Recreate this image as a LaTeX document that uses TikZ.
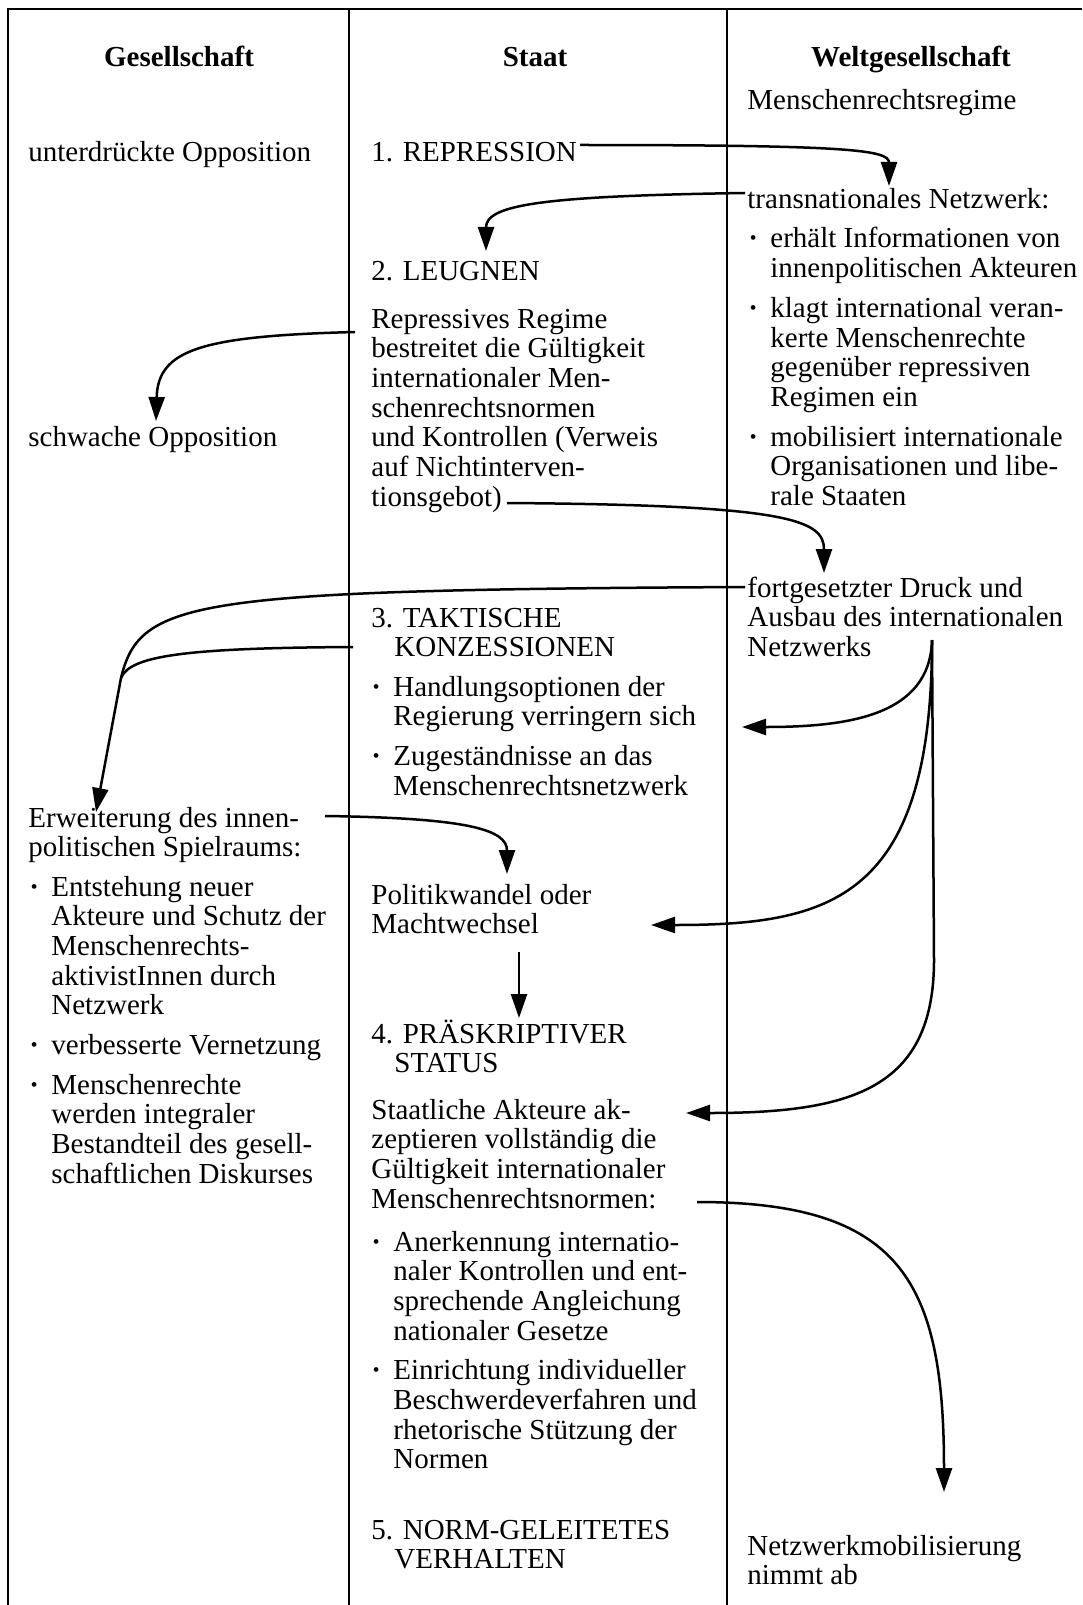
\documentclass[tikz,border=0pt]{standalone}
\usepackage{fontspec}
\setmainfont{Liberation Serif}
\usetikzlibrary{arrows.meta}

\newcommand{\zeilen}[1]{\begin{tabular}[t]{@{}l@{}}#1\end{tabular}}
\newcommand{\punkte}[1]{\begin{tabular}[t]{@{}l@{}l@{}}#1\end{tabular}}
\newcommand{\pkt}{\makebox[11pt][l]{\textbf{·}}}
\newcommand{\einr}{\hspace*{11.5pt}}

\tikzset{
  txt/.style={anchor=base west, inner sep=0pt, font=\fontsize{14.5}{14.85}\selectfont},
  kopf/.style={anchor=base, inner sep=0pt, font=\fontsize{14.5}{14.85}\selectfont\bfseries},
  linie/.style={line width=1pt},
  strich/.style={line width=1.25pt},
  pfeil/.style={line width=1.25pt, -{Triangle[length=12pt,width=8pt]}}
}

\begin{document}
\begin{tikzpicture}[x=0.5pt, y=-0.5pt]
\useasboundingbox (0,0) rectangle (1082,1605);

% Rahmen und Spalten
\draw[linie, line width=1.3pt] (1082,9) -- (8,9) -- (8,1605);
\draw[linie] (349,9) -- (349,1605);
\draw[linie] (727,9) -- (727,1605);

% Kopfzeile
\node[kopf] (gesell) at (179,67) {Gesellschaft};
\node[kopf] (staat) at (535,67) {Staat};
\node[kopf] (welt) at (911,67) {Weltgesellschaft};

% Gesellschaft
\node[txt] (unterdr) at (28,162) {unterdrückte Opposition};
\node[txt] (schwach) at (28,446) {schwache Opposition};
\node[txt] (erweit) at (28,827) {\zeilen{Erweiterung des innen-\\politischen Spielraums:}};
\node[txt] (entsteh) at (29,896) {\punkte{\pkt & Entstehung neuer\\ & Akteure und Schutz der\\ & Menschenrechts-\\ & aktivistInnen durch\\ & Netzwerk\\[5pt]
  \pkt & verbesserte Vernetzung\\[5pt]
  \pkt & Menschenrechte\\ & werden integraler\\ & Bestandteil des gesell-\\ & schaftlichen Diskurses}};

% Staat
\node[txt] (repr) at (371,162) {1. REPRESSION};
\node[txt] (leugn) at (371,280) {2. LEUGNEN};
\node[txt] (regime) at (371,328) {\zeilen{Repressives Regime\\bestreitet die Gültigkeit\\internationaler Men-\\schenrechtsnormen\\und Kontrollen (Verweis\\auf Nichtinterven-\\tionsgebot)}};
\node[txt] (takt) at (371,627) {\zeilen{3. TAKTISCHE\\\einr KONZESSIONEN}};
\node[txt] (handl) at (371,696) {\punkte{\pkt & Handlungsoptionen der\\ & Regierung verringern sich\\[5pt]
  \pkt & Zugeständnisse an das\\ & Menschenrechtsnetzwerk}};
\node[txt] (wandel) at (371,904) {\zeilen{Politikwandel oder\\Machtwechsel}};
\node[txt] (praeskr) at (371,1043) {\zeilen{4. PRÄSKRIPTIVER\\\einr STATUS}};
\node[txt] (akzept) at (371,1119) {\zeilen{Staatliche Akteure ak-\\zeptieren vollständig die\\Gültigkeit internationaler\\Menschenrechtsnormen:}};
\node[txt] (anerk) at (371,1251) {\punkte{\pkt & Anerkennung internatio-\\ & naler Kontrollen und ent-\\ & sprechende Angleichung\\ & nationaler Gesetze\\[5pt]
  \pkt & Einrichtung individueller\\ & Beschwerdeverfahren und\\ & rhetorische Stützung der\\ & Normen}};
\node[txt] (norm) at (371,1539) {\zeilen{5. NORM-GELEITETES\\\einr VERHALTEN}};

% Weltgesellschaft
\node[txt] (mrregime) at (747,110) {Menschenrechtsregime};
\node[txt] (transnat) at (747,209) {transnationales Netzwerk:};
\node[txt] (erhaelt) at (748,248) {\punkte{\pkt & erhält Informationen von\\ & innenpolitischen Akteuren\\[5pt]
  \pkt & klagt international veran-\\ & kerte Menschenrechte\\ & gegenüber repressiven\\ & Regimen ein\\[5pt]
  \pkt & mobilisiert internationale\\ & Organisationen und libe-\\ & rale Staaten}};
\node[txt] (druck) at (747,597) {\zeilen{fortgesetzter Druck und\\Ausbau des internationalen\\Netzwerks}};
\node[txt] (abnahme) at (747,1555) {\zeilen{Netzwerkmobilisierung\\nimmt ab}};

% Anfangs- und Endpunkte der Pfeile
\coordinate (reprA) at (580,145);
\coordinate (reprE) at (889,186);
\coordinate (netzA) at (745,193);
\coordinate (netzE) at (486,251);
\coordinate (leugnA) at (355,332);
\coordinate (leugnE) at (156,421);
\coordinate (gebotA) at (507,503);
\coordinate (gebotE) at (824,573);
\coordinate (druckA) at (745,587);
\coordinate (konzA) at (353,647);
\coordinate (treff) at (121,678);
\coordinate (erweitE) at (96,812);
\coordinate (spielA) at (325,816);
\coordinate (wandelE) at (507,874);
\coordinate (wandelA) at (519,952);
\coordinate (praeskrE) at (519,1018);
\coordinate (faecher) at (932,640);
\coordinate (handlE) at (742,727);
\coordinate (machtE) at (651,925);
\coordinate (knick) at (934,960);
\coordinate (akzeptE) at (686,1113);
\coordinate (normenA) at (697,1202);
\coordinate (abnahmeE) at (944,1492);

% Pfeile
\draw[pfeil] (reprA) .. controls (850,145) and (889,150) .. (reprE);
\draw[pfeil] (netzA) .. controls (540,196) and (486,205) .. (netzE);
\draw[pfeil] (leugnA) .. controls (200,336) and (158,350) .. (leugnE);
\draw[pfeil] (gebotA) .. controls (790,505) and (824,520) .. (gebotE);
\draw[strich] (druckA) .. controls (190,590) and (140,600) .. (treff);
\draw[strich] (konzA) .. controls (190,648) and (130,655) .. (treff);
\draw[pfeil] (treff) -- (erweitE);
\draw[pfeil] (spielA) .. controls (470,818) and (507,830) .. (wandelE);
\draw[pfeil] (wandelA) -- (praeskrE);
\draw[pfeil] (faecher) .. controls (930,715) and (850,727) .. (handlE);
\draw[pfeil] (faecher) .. controls (932,900) and (830,925) .. (machtE);
\draw[pfeil] (faecher) -- (knick) .. controls (934,1090) and (850,1113) .. (akzeptE);
\draw[pfeil] (normenA) .. controls (900,1202) and (944,1280) .. (abnahmeE);
\end{tikzpicture}
\end{document}
